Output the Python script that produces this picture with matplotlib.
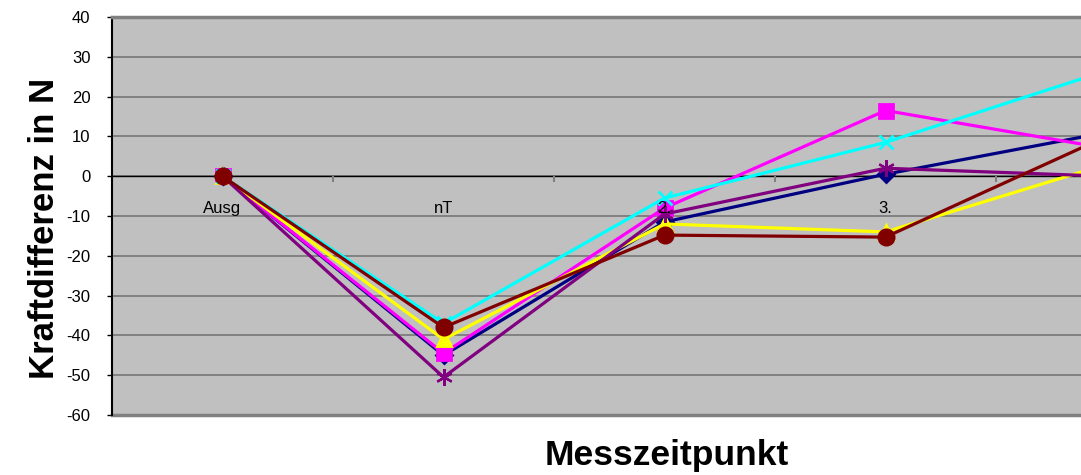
import matplotlib
matplotlib.use("Agg")
import matplotlib.pyplot as plt
import numpy as np

plt.rcParams['font.family'] = ['Liberation Sans', 'DejaVu Sans']

categories = ["Ausg", "nT", "2.", "3.", ""]
series_navy = [0, -45, -11.5, 0.5, 11]
series_magenta = [0, -44.5, -8, 16.5, 7]
series_yellow = [0, -41, -12, -14, 3]
series_cyan = [0, -37, -5.5, 8.5, 26.5]
series_purple = [0, -50.5, -9.5, 2, 0]
series_darkred = [0, -38, -14.8, -15.3, 10]

y_ticks = list(range(-60, 41, 10))

fig = plt.figure(figsize=(10.81, 4.75), dpi=100)
ax = fig.add_axes([112 / 1081, 1 - 415 / 475, 1105 / 1081, 398 / 475])
ax.set_facecolor("#c0c0c0")

x = np.arange(len(categories))
styles = [
    (series_navy, "#000080", "D", 8, 2.0),
    (series_magenta, "#ff00ff", "s", 10, 2.0),
    (series_yellow, "#ffff00", "^", 10, 2.0),
    (series_cyan, "#00ffff", "x", 10, 2.0),
    (series_purple, "#800080", (6, 2, 0), 12, 1.6),
    (series_darkred, "#800000", "o", 11, 2.0),
]
for vals, col, mk, ms, mew in styles:
    ax.plot(x, vals, color=col, lw=2.3, marker=mk, markersize=ms,
            markerfacecolor=col, markeredgecolor=col, markeredgewidth=mew,
            zorder=3, clip_on=True)

ax.set_xlim(-0.5, len(categories) - 0.5)
ax.set_ylim(-60, 40)
ax.set_yticks(y_ticks)
ax.set_yticklabels([str(v) for v in y_ticks], fontsize=12)
ax.yaxis.grid(True, color="#707070", lw=1.1, zorder=1)
ax.set_axisbelow(True)

# category axis drawn along the zero line, labels on top of the series
ax.spines['bottom'].set_position(('data', 0))
ax.spines['bottom'].set_color("black")
ax.spines['bottom'].set_linewidth(1.0)
ax.spines['bottom'].set_zorder(2)
ax.set_xticks(x)
ax.set_xticklabels(categories, fontsize=12)
ax.tick_params(axis='x', which='major', length=0, pad=18)
ax.set_xticks(x[:-1] + 0.5, minor=True)
ax.tick_params(axis='x', which='minor', length=4, color="#808080", width=1.5, direction='out')
ax.xaxis.set_zorder(5)

ax.tick_params(axis='y', length=3.5, width=1, color="black", pad=12)
ax.spines['left'].set_color("black")
ax.spines['left'].set_linewidth(1.5)
ax.spines['top'].set_color("#808080")
ax.spines['top'].set_linewidth(2.5)
ax.spines['right'].set_visible(False)
ax.axhline(-60, color="#808080", lw=2.5, clip_on=False, zorder=2)

fig.text(45 / 1081, 1 - 228 / 475, "Kraftdifferenz in N", rotation=90,
         fontsize=25, fontweight='bold', ha='center', va='center')
fig.text(667 / 1081, 1 - 455 / 475, "Messzeitpunkt",
         fontsize=25.5, fontweight='bold', ha='center', va='center')

fig.savefig("out.png", dpi=100)
